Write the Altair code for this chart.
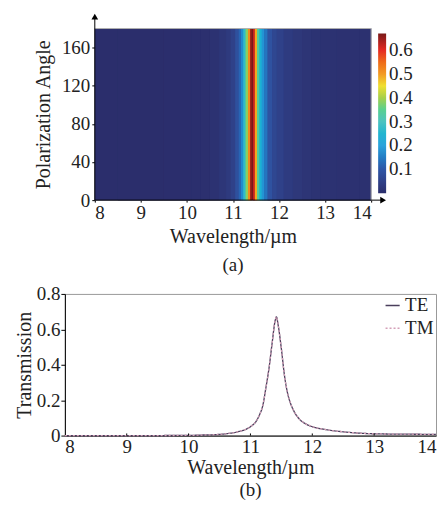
import altair as alt
import pandas as pd

# ---- data ----
wavelength = [8.0, 9.0, 10.0, 10.2, 10.4, 10.6, 10.8, 10.9, 11.0, 11.1, 11.15, 11.2, 11.25,
              11.3, 11.35, 11.4, 11.42, 11.45, 11.5, 11.55, 11.6, 11.65, 11.7, 11.8, 11.9,
              12.0, 12.2, 12.4, 12.6, 12.8, 13.0, 13.5, 14.0]
trans_te = [0.0, 0.0, 0.001, 0.003, 0.005, 0.01, 0.022, 0.032, 0.05, 0.085, 0.12, 0.17, 0.27,
            0.38, 0.52, 0.65, 0.67, 0.62, 0.49, 0.34, 0.24, 0.18, 0.14, 0.09, 0.065,
            0.05, 0.035, 0.025, 0.018, 0.013, 0.01, 0.008, 0.007]
trans_tm = [0.0, 0.0, 0.001, 0.003, 0.005, 0.01, 0.022, 0.032, 0.05, 0.085, 0.12, 0.17, 0.27,
            0.38, 0.52, 0.65, 0.67, 0.62, 0.49, 0.34, 0.24, 0.18, 0.14, 0.09, 0.065,
            0.05, 0.035, 0.025, 0.018, 0.013, 0.01, 0.008, 0.007]
angle_range = [0, 180]
x_ticks = [8, 9, 10, 11, 12, 13, 14]
angle_ticks = [0, 40, 80, 120, 160]
t_ticks = [0, 0.2, 0.4, 0.6, 0.8]
cbar_ticks = [0.1, 0.2, 0.3, 0.4, 0.5, 0.6]
cmap_stops = [0, 0.1, 0.2, 0.3, 0.4, 0.45, 0.5, 0.6, 0.67]
cmap_colors = ["#2b2e6c", "#2e56a6", "#2aa3dc", "#4cc3c0", "#a6d04a", "#f0e030",
               "#f39a22", "#e52a22", "#7a1a18"]

FONT = "Liberation Serif"
TXT = "#222222"
OFF = 30            # top panel is shifted right relative to the bottom one
W1, H1 = 277, 172
W2, H2 = 372, 142

# heatmap cells (bounded at midpoints between samples)
x0, x1 = [], []
n = len(wavelength)
for i in range(n):
    lo = wavelength[0] if i == 0 else (wavelength[i - 1] + wavelength[i]) / 2
    hi = wavelength[-1] if i == n - 1 else (wavelength[i] + wavelength[i + 1]) / 2
    x0.append(lo)
    x1.append(hi)
x1_over = x1[1:] + [x1[-1]]   # underlay cells overlap the next one to hide seams
heat_df = pd.DataFrame({"x0": x0, "x1": x1, "x1o": x1_over, "T": trans_te,
                        "a0": angle_range[0], "a1": angle_range[1]})

cscale = alt.Scale(domain=cmap_stops, range=cmap_colors)
xscale1 = alt.Scale(domain=[8, 14], nice=False, zero=False, range=[OFF, OFF + W1])

base = alt.Chart(heat_df)
under = base.mark_rect().encode(
    x=alt.X("x0:Q", scale=xscale1,
            axis=alt.Axis(values=x_ticks, title="Wavelength/µm", tickSize=2, grid=False,
                          domain=False, labelFont=FONT, labelFontSize=19, labelPadding=1,
                          titleFont=FONT, titleFontSize=20, titlePadding=4,
                          labelExpr="format(datum.value, 'd')")),
    x2="x1o:Q",
    y=alt.Y("a0:Q", scale=alt.Scale(domain=angle_range, nice=False),
            axis=alt.Axis(values=angle_ticks, title="Polarization Angle", tickSize=3,
                          grid=False, domain=False, labelFont=FONT, labelFontSize=19,
                          labelPadding=2, titleFont=FONT, titleFontSize=20,
                          titlePadding=8, offset=-OFF)),
    y2="a1:Q",
    color=alt.Color("T:Q", scale=cscale,
                    legend=alt.Legend(orient="none", legendX=OFF + W1 + 7, legendY=5,
                                      direction="vertical", title=None, type="gradient",
                                      gradientLength=160, gradientThickness=8,
                                      gradientStrokeWidth=0, values=cbar_ticks,
                                      labelFont=FONT, labelFontSize=19,
                                      labelColor=TXT, labelOverlap=False,
                                      labelOffset=3)),
)
heat = base.mark_rect().encode(
    x=alt.X("x0:Q"), x2="x1:Q", y=alt.Y("a0:Q"), y2="a1:Q",
    color=alt.Color("T:Q"),
)

frame_top = alt.Chart().mark_rule(color="#b0b0b0", strokeWidth=1).encode(
    x=alt.value(OFF), x2=alt.value(OFF + W1), y=alt.value(0))
frame_right = alt.Chart().mark_rule(color="#b0b0b0", strokeWidth=1).encode(
    x=alt.value(OFF + W1), y=alt.value(0), y2=alt.value(H1))
yarrow_line = alt.Chart().mark_rule(color="black", strokeWidth=1).encode(
    x=alt.value(OFF), y=alt.value(-10), y2=alt.value(H1))
yarrow = alt.Chart().mark_point(shape="triangle-up", filled=True, color="black",
                                size=45, opacity=1).encode(
    x=alt.value(OFF), y=alt.value(-12))
xarrow_line = alt.Chart().mark_rule(color="black", strokeWidth=1).encode(
    x=alt.value(OFF), x2=alt.value(OFF + W1 + 10), y=alt.value(H1))
xarrow = alt.Chart().mark_point(shape="triangle-right", filled=True, color="black",
                                size=45, opacity=1).encode(
    x=alt.value(OFF + W1 + 12), y=alt.value(H1))

top = alt.layer(under, heat, frame_top, frame_right, yarrow_line, yarrow, xarrow_line,
                xarrow).properties(
    width=OFF + W1, height=H1,
    view=alt.ViewBackground(stroke=None),
    title=alt.TitleParams("(a)", orient="bottom", font=FONT, fontSize=19,
                          fontWeight="normal", color=TXT, offset=10, dx=OFF / 2),
)

# ---- bottom chart ----
line_df = pd.concat([
    pd.DataFrame({"wl": wavelength, "T": trans_te, "pol": "TE"}),
    pd.DataFrame({"wl": wavelength, "T": trans_tm, "pol": "TM"}),
])

leg = dict(orient="none", legendX=W2 - 53, legendY=2, title=None, symbolType="stroke",
           symbolStrokeWidth=1.5, symbolSize=200, labelFont=FONT, labelFontSize=19,
           labelColor=TXT, rowPadding=3, labelOffset=3)

x_axis2 = alt.Axis(values=x_ticks, title="Wavelength/µm", tickSize=0, grid=False,
                   labelFont=FONT, labelFontSize=19, labelPadding=2,
                   titleFont=FONT, titleFontSize=20, titlePadding=1,
                   labelExpr="format(datum.value, 'd')")
y_axis2 = alt.Axis(values=t_ticks, title="Transmission", tickSize=4, grid=False,
                   labelFont=FONT, labelFontSize=19, labelPadding=1,
                   labelOverlap=False, labelBound=False, titleFont=FONT, titleFontSize=20,
                   titlePadding=2,
                   labelExpr="datum.value == 0 ? '0' : format(datum.value, '.1f')")
xscale2 = alt.Scale(domain=[8, 14], nice=False, zero=False)
yscale2 = alt.Scale(domain=[0, 0.8], nice=False)

lines = alt.Chart(line_df).mark_line(strokeWidth=1.3, interpolate="monotone").encode(
    x=alt.X("wl:Q", scale=xscale2, axis=x_axis2),
    y=alt.Y("T:Q", scale=yscale2, axis=y_axis2),
    color=alt.Color("pol:N", scale=alt.Scale(domain=["TE", "TM"],
                                             range=["#4a3f5c", "#d4a0b8"]),
                    legend=alt.Legend(**leg)),
    strokeDash=alt.StrokeDash("pol:N", scale=alt.Scale(domain=["TE", "TM"],
                                                       range=[[1, 0], [2, 2]]),
                              legend=alt.Legend(**leg)),
)

tick_df = pd.DataFrame({"wl": x_ticks[1:-1], "T": 0.0, "T_top": 0.012})
xticks_in = alt.Chart(tick_df).mark_rule(color="black", strokeWidth=1).encode(
    x=alt.X("wl:Q", scale=xscale2, axis=x_axis2),
    y=alt.Y("T:Q", scale=yscale2, axis=y_axis2),
    y2="T_top:Q")

bottom = alt.layer(lines, xticks_in).properties(
    width=W2, height=H2,
    title=alt.TitleParams("(b)", orient="bottom", font=FONT, fontSize=19,
                          fontWeight="normal", color=TXT, offset=4),
)

chart = alt.vconcat(top, bottom, spacing=9).resolve_scale(
    color="independent", strokeDash="independent"
).resolve_legend(
    color="independent", strokeDash="independent"
).properties(
    padding={"left": 5, "top": 5, "right": 0, "bottom": 5}
).configure(font=FONT).configure_view(
    stroke="#999999", strokeWidth=1
).configure_axis(
    labelFont=FONT, titleFont=FONT, titleFontWeight="normal",
    labelColor=TXT, titleColor=TXT, domainColor="black", tickColor="black",
    labelOverlap=False,
)

chart.save("out.html", embed_options={"renderer": "svg", "actions": False})
